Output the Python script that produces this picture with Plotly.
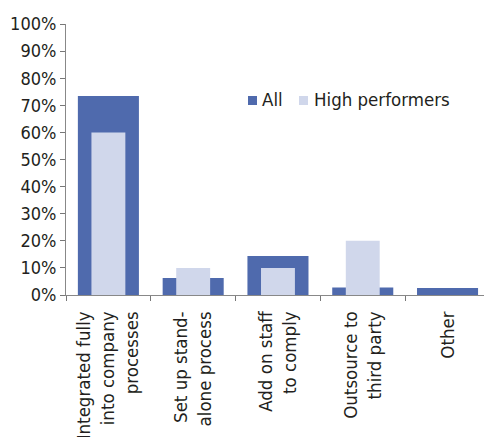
import plotly.graph_objects as go

categories = ["Integrated fully<br>into company<br>processes", "Set up stand-<br>alone process",
              "Add on staff<br>to comply", "Outsource to<br>third party", "Other"]
all_vals = [73.4, 6.3, 14.4, 2.8, 2.6]
high_vals = [60, 10, 10, 20, 0]
ytick_vals = [0, 10, 20, 30, 40, 50, 60, 70, 80, 90, 100]
ytick_text = [f"{v}%" for v in ytick_vals]
series_names = ["All", "High performers"]
series_colors = ["#4F6AAD", "#D0D7EB"]

FONT = "DejaVu Sans Condensed, Liberation Sans Narrow, Roboto, sans-serif"

fig = go.Figure()
fig.add_trace(go.Bar(x=categories, y=all_vals, name=series_names[0], width=0.72,
                     marker=dict(color=series_colors[0], line=dict(width=0))))
fig.add_trace(go.Bar(x=categories, y=high_vals, name=series_names[1], width=0.4,
                     marker=dict(color=series_colors[1], line=dict(width=0))))

# manual legend (paper coords)
leg_items = [(248, 260), (299, 312)]
shapes = []
annots = []
for (mx, tx), name, col in zip(leg_items, series_names, series_colors):
    x0 = (mx - 66) / 418
    x1 = (mx + 9 - 66) / 418
    shapes.append(dict(type="rect", xref="paper", yref="paper", x0=x0, x1=x1,
                       y0=(295 - 105) / 271, y1=(295 - 96) / 271,
                       fillcolor=col, line=dict(width=0)))
    annots.append(dict(xref="paper", yref="paper", x=(tx - 66) / 418, y=(295 - 99) / 271,
                       xanchor="left", yanchor="middle", text=name, showarrow=False,
                       font=dict(size=18.5, family=FONT, color="#231F20")))

fig.update_layout(
    width=484, height=437,
    margin=dict(l=66, r=0, t=24, b=142, autoexpand=False),
    barmode="overlay",
    plot_bgcolor="white", paper_bgcolor="white",
    font=dict(family=FONT, size=18, color="#231F20"),
    showlegend=False,
    shapes=shapes, annotations=annots,
    xaxis=dict(type="category", range=[-0.5, 4.43], tickson="boundaries",
               ticks="outside", ticklen=5, tickcolor="#777", showline=True,
               linecolor="#888", linewidth=1, tickangle=-90, showgrid=False,
               automargin=False, ticklabelstandoff=8, tickfont=dict(size=18.5)),
    yaxis=dict(range=[0, 100], tickvals=ytick_vals, ticktext=ytick_text,
               ticks="outside", ticklen=5, tickcolor="#777", showline=True,
               linecolor="#888", linewidth=1, showgrid=False, zeroline=False,
               automargin=False, tickfont=dict(size=18)),
)

fig.write_html("out.html")
